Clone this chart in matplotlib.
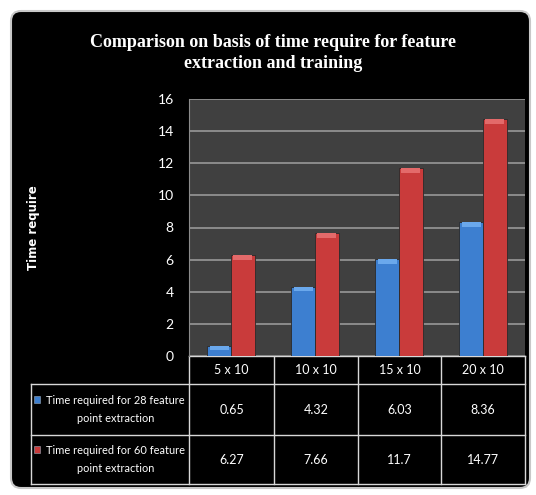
import matplotlib.pyplot as plt
from matplotlib.patches import FancyBboxPatch, Rectangle
import numpy as np

TITLE = 'Comparison on basis of time require for feature\nextraction and training'
YLABEL = 'Time require'

categories = ['5 x 10', '10 x 10', '15 x 10', '20 x 10']
series_names = ['Time required for 28 feature\npoint extraction',
                'Time required for 60 feature\npoint extraction']
time_28 = [0.65, 4.32, 6.03, 8.36]
time_60 = [6.27, 7.66, 11.7, 14.77]
value_labels = [['0.65', '4.32', '6.03', '8.36'],
                ['6.27', '7.66', '11.7', '14.77']]
yticks = [0, 2, 4, 6, 8, 10, 12, 14, 16]

BLUE = '#3d7fd0'
BLUE_TOP = '#6aa8ec'
RED = '#c93b3b'
RED_TOP = '#e36a6a'
NARROW = ['Lato', 'DejaVu Sans']

W, H = 536, 495
fig = plt.figure(figsize=(W / 100, H / 100), dpi=100, facecolor='white')

# overlay axes in pixel coordinates for background frame and table
bg = fig.add_axes([0, 0, 1, 1])
bg.set_xlim(0, W)
bg.set_ylim(H, 0)
bg.axis('off')
bg.add_patch(FancyBboxPatch((11, 11), 519, 477, boxstyle='round,pad=0,rounding_size=10',
                            facecolor='black', edgecolor='#c8c8c8', lw=1.5))

bg.text(273, 53, TITLE, ha='center', va='center', color='white',
        fontsize=13, fontweight='bold', family='Liberation Serif', linespacing=1.3)
bg.text(33, 228, YLABEL, ha='center', va='center', rotation=90, color='white',
        fontsize=8.5, fontweight='bold', family='DejaVu Sans')

# main bar axes
left, right, top, bottom = 189, 525, 99, 356
ax = fig.add_axes([left / W, 1 - bottom / H, (right - left) / W, (bottom - top) / H])
ax.set_facecolor('#404040')
x = np.arange(len(categories))
bw = 0.28
for vals, off, c, ct in [(time_28, -0.14, BLUE, BLUE_TOP), (time_60, 0.14, RED, RED_TOP)]:
    vals = np.array(vals)
    ax.bar(x + off, vals, bw, color=c, edgecolor='#2a2a2a', lw=0.6, zorder=3)
    cap = np.minimum(0.3, vals)
    ax.bar(x + off, cap, bw * 0.82, bottom=vals - cap, color=ct, lw=0, zorder=4)

ax.set_xlim(-0.5, len(categories) - 0.5)
ax.set_ylim(0, 16)
ax.set_yticks(yticks)
ax.set_yticklabels([str(t) for t in yticks], color='white', fontsize=10,
                   family=NARROW)
ax.set_xticks([])
ax.tick_params(axis='y', length=0, pad=11)
ax.grid(True, axis='y', color='#8c8c8c', lw=1.4, zorder=1)
for s in ['top', 'right', 'bottom']:
    ax.spines[s].set_visible(False)
ax.spines['left'].set_color('#8c8c8c')

# data table under the chart
col_edges = [189, 274, 358, 441, 525]
row_edges = [356, 384, 435, 484]
lbl_left = 31
lc, lw = '#d8d8d8', 1.0
for xe in col_edges:
    bg.plot([xe, xe], [row_edges[0], row_edges[-1]], color=lc, lw=lw)
bg.plot([lbl_left, lbl_left], [row_edges[1], row_edges[-1]], color=lc, lw=lw)
bg.plot([col_edges[0], col_edges[-1]], [row_edges[0], row_edges[0]], color=lc, lw=lw)
for ye in row_edges[1:]:
    bg.plot([lbl_left, col_edges[-1]], [ye, ye], color=lc, lw=lw)

for i, cat in enumerate(categories):
    cx = (col_edges[i] + col_edges[i + 1]) / 2
    bg.text(cx, (row_edges[0] + row_edges[1]) / 2, cat, ha='center', va='center',
            color='white', fontsize=9, family=NARROW)
    for r in range(2):
        cy = (row_edges[r + 1] + row_edges[r + 2]) / 2
        bg.text(cx, cy, value_labels[r][i], ha='center', va='center',
                color='white', fontsize=9, family=NARROW)

for r, (name, c) in enumerate(zip(series_names, [BLUE, RED])):
    cy = (row_edges[r + 1] + row_edges[r + 2]) / 2
    bg.add_patch(Rectangle((34, cy - 14), 6, 7, facecolor=c, edgecolor='#9ab', lw=0.4))
    bg.text(115.5, cy, name, ha='center', va='center', color='white',
            fontsize=7.9, family=NARROW, linespacing=1.8)

fig.savefig('out.png', dpi=100, facecolor=fig.get_facecolor())
